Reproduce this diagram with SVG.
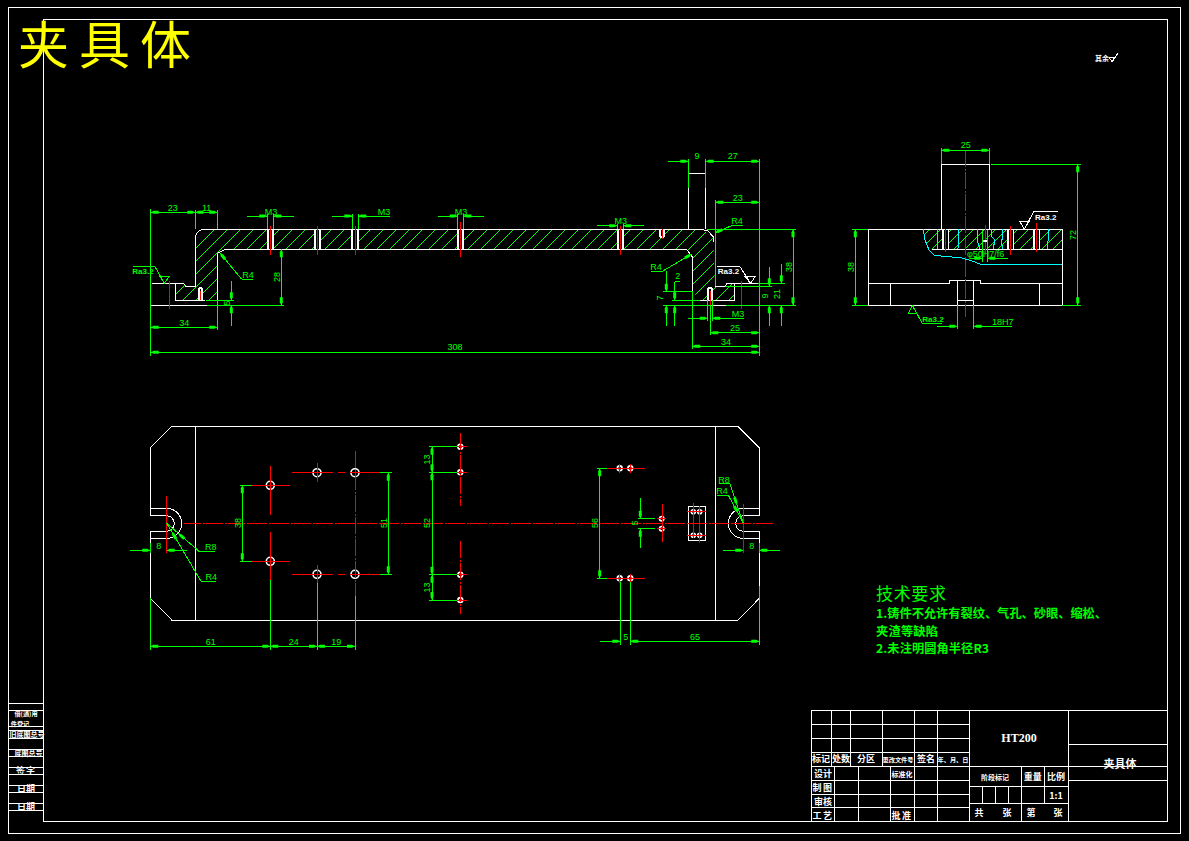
<svg xmlns="http://www.w3.org/2000/svg" width="1189" height="841" viewBox="0 0 1189 841">
<style>
.w{fill:none;stroke:#fff;stroke-width:1;shape-rendering:crispEdges}
.wt{fill:none;stroke:#fff;stroke-width:2;shape-rendering:crispEdges}
.g{fill:none;stroke:#00ff00;stroke-width:1;shape-rendering:crispEdges}
.b{fill:none;stroke:#00ff00;stroke-width:1;marker-start:url(#ar);marker-end:url(#ar);shape-rendering:crispEdges}
.a{fill:none;stroke:#00ff00;stroke-width:1;marker-end:url(#ar);shape-rendering:crispEdges}
.r{fill:none;stroke:#ff0000;stroke-width:1;shape-rendering:crispEdges}
.rc{fill:none;stroke:#ff0000;stroke-width:1;stroke-dasharray:17 1.5 2 1.5;shape-rendering:crispEdges}
.c{fill:none;stroke:#00ffff;stroke-width:1;shape-rendering:crispEdges}
.hl{fill:none;stroke:#00ff00;stroke-width:1;shape-rendering:crispEdges}
.t{font-family:"Liberation Sans",sans-serif;font-size:9px;fill:#00ff00;text-anchor:middle}
.tw{font-family:"Noto Sans CJK SC","Liberation Sans",sans-serif;font-size:9px;font-weight:700;fill:#fff;text-anchor:middle}
.ts{font-size:6.200px}
.tm{font-size:7px}
.tg{font-family:"Noto Sans CJK SC","Liberation Sans",sans-serif;font-size:12.200px;font-weight:700;fill:#00ff00}
.ra{font-family:"Liberation Sans",sans-serif;font-size:8px;font-weight:700;text-anchor:middle}
.hole{fill:none;stroke:#fff;stroke-width:1.600}
</style>
<defs>
<marker id="ar" markerUnits="userSpaceOnUse" markerWidth="10" markerHeight="6" refX="10" refY="3" orient="auto-start-reverse"><path d="M10,3 L7,1.500 L2,1.500 L2,4.500 L7,4.500 Z" fill="#00ff00"/></marker>
<clipPath id="fc"><path d="M204,229.300 L701.700,229.300 L713,237 L715.300,286.300 L725,286.300 L727,283.300 L734.700,283.300 L734.700,300.300 L700,300.300 L692.300,291 L692.300,257 L686.700,249.300 L225,249.300 L218,253 L217.300,300.300 L175.300,300.300 L175.300,283.300 L183.700,283.300 L186,286.700 L195.300,286.700 L195.300,237 Z"/></clipPath>
<clipPath id="sc"><path d="M923.300,229.300 H1062.300 V249.300 H931.700 L929,248 L925,240 Z"/></clipPath>
</defs>
<rect width="1189" height="841" fill="#000"/>

<g id="frame">
<rect class="w" x="8" y="7" width="1172" height="826"/>
<rect class="w" x="43" y="19.500" width="1124" height="802"/>
</g>
<text id="title" x="18" y="64" font-family="'Noto Sans CJK SC','Liberation Sans',sans-serif" font-size="51" fill="#ffff00" letter-spacing="10">夹具体</text>

<g id="roughness-note">
<text class="tw tm" x="1102" y="61">其余</text>
<path class="w" d="M1109,57 H1115 L1112,62 L1109,57 M1112,62 L1118,53"/>
</g>

<g id="front-view">
<path class="hl" clip-path="url(#fc)" d="M176,229l-77,77M189,229l-77,77M202,229l-77,77M215,229l-77,77M228,229l-77,77M241,229l-77,77M254,229l-77,77M267,229l-77,77M280,229l-77,77M293,229l-77,77M306,229l-77,77M319,229l-77,77M332,229l-77,77M345,229l-77,77M358,229l-77,77M371,229l-77,77M384,229l-77,77M397,229l-77,77M410,229l-77,77M423,229l-77,77M436,229l-77,77M449,229l-77,77M462,229l-77,77M475,229l-77,77M488,229l-77,77M501,229l-77,77M514,229l-77,77M527,229l-77,77M540,229l-77,77M553,229l-77,77M566,229l-77,77M579,229l-77,77M592,229l-77,77M605,229l-77,77M618,229l-77,77M631,229l-77,77M644,229l-77,77M657,229l-77,77M670,229l-77,77M683,229l-77,77M696,229l-77,77M709,229l-77,77M722,229l-77,77M735,229l-77,77M748,229l-77,77M761,229l-77,77M774,229l-77,77M787,229l-77,77M800,229l-77,77M813,229l-77,77"/>
<path fill="#000" d="M267.300,229h6v20h-6zM314.300,229h6v20h-6zM352.300,229h6v20h-6zM457.700,229h6v20h-6zM617.300,229h6v20h-6zM198.300,288h4v12h-4zM707.700,288h5v12h-5z"/>
<path class="w" d="M204,229.300 H701.700 M701.700,229.300 L708,231 L713.300,237 V242 M195.300,237 Q197,230 204,229.300 M195.300,237 V286.700 H186 L183.700,283.300 H152 M225,249.300 H686.700 L692.300,257 V291.700 M225,249.300 L218.300,253 M175.300,283.300 V300.300 H205 M217.300,253 V300 M150.700,305.300 H206.700 M700,300.300 H734.700 V283.300 M727,283.300 H758.300 M715.300,286.300 H725 L727,283.300 M710,305.300 H725.700 M688.300,188 V229.300 M705.700,188 V229.300 M688.300,173.300 H705.700 M759.300,296 V300 M150.700,292 V296"/>
<path class="wt" d="M268,229.300 V249.300 M273.300,229.300 V249.300 M315,229.300 V249.300 M320,229.300 V249.300 M352.300,229.300 V249.300 M358.300,229.300 V249.300 M458,229.300 V249.300 M463.300,229.300 V249.300 M618,229.300 V249.300 M623.300,229.300 V249.300 M660,229.300 V237 M664,229.300 V237 M660,237 H664 M198.500,288 V300 M202,288 V300 M198.500,288 H202 M708,288 V300 M712.300,288 V300 M708,288 H712.300"/>
<path class="r" d="M270.300,226 V255 M317.300,226 V255 M355.300,226 V255 M460.300,222 V257 M620.300,226 V255 M662,229 V239 M200.500,291 V300 M710.300,291 V311 M169.300,281 V309 M741.300,281 V309"/>
</g>

<g id="front-dims" class="dims">
<path class="g" d="M150.700,209 V356 M195.300,210 V229 M217.300,210 V229 M217.300,300 V330 M688.300,159 V188 M705.700,159 V188 M759.300,159 V356 M715.300,200 V286 M706.700,229.300 H795.700 M206.700,305.300 H284 M725.700,305.300 H795.700 M206,300.300 H234 M663,291.700 H692.300 M663,305.300 H710 M672,300.300 H700 M725,286.300 H771.700 M758,283.300 H785 M692.300,291 V349 M710.300,305 V335 M707.700,300 V321 M712.300,300 V321 M267.300,214 V229 M273.300,214 V229 M352.300,214 V229 M358.300,214 V229 M457.700,214 V229 M463.300,214 V229 M617.300,224 V229 M623.300,224 V229 M674.700,281.700 H680"/>
<path class="b" d="M150.700,212.300 H195.300"/><path class="b" d="M195.300,212.300 H217.300"/>
<path class="b" d="M150.700,327.300 H217.300"/>
<path class="b" d="M150.700,352.300 H759.300"/>
<path class="b" d="M281.300,249.300 V305.300"/>
<path class="a" d="M247,216 H267.300"/><path class="a" d="M294,216 H273.300"/>
<path class="a" d="M332,216 H352.300"/><path class="a" d="M390,216 H358.300"/>
<path class="a" d="M438,216 H457.700"/><path class="a" d="M484,216 H463.300"/>
<path class="a" d="M597,225.700 H617.300"/><path class="a" d="M643.700,225.700 H623.300"/>
<path class="a" d="M231.300,281 V300.300"/><path class="a" d="M231.300,325.700 V305.300"/>
<path class="a" d="M668,161.300 H688.300"/><path class="b" d="M705.700,161.300 H759.300"/>
<path class="b" d="M715.300,202.300 H759.300"/>
<path class="b" d="M793,229.300 V305.300"/>
<path class="a" d="M666.300,271 V291.700"/><path class="a" d="M666.300,325.700 V305.300"/>
<path class="a" d="M674.700,281.700 V300.300"/><path class="a" d="M674.700,325.700 V305.300"/>
<path class="a" d="M688,318.300 H707.700"/><path class="a" d="M744,318.300 H712.300"/>
<path class="b" d="M710.300,332.700 H759.300"/>
<path class="b" d="M692.300,346.300 H759.300"/>
<path class="a" d="M769.300,267.300 V286.300"/><path class="a" d="M769.300,325.700 V305.300"/>
<path class="a" d="M781.300,264 V283.300"/><path class="a" d="M781.300,325.700 V305.300"/>
<path class="a" d="M241.700,279.300 L220,253"/><path class="g" d="M241.700,279.300 H252.700"/>
<path class="a" d="M731.700,225.700 L715,232.700"/><path class="g" d="M731.700,225.700 H742.700"/>
<path class="a" d="M661.700,271.700 L691.700,254"/><path class="g" d="M661.700,271.700 H651"/>
<text class="t" x="172.700" y="210.500">23</text><text class="t" x="206.700" y="210.500">11</text>
<text class="t" x="184.300" y="325.700">34</text><text class="t" x="455" y="350">308</text>
<text class="t" x="271" y="214.500">M3</text><text class="t" x="384" y="214.500">M3</text><text class="t" x="461" y="214.500">M3</text><text class="t" x="620.700" y="224">M3</text>
<text class="t" x="248" y="278">R4</text><text class="t" x="737" y="224">R4</text><text class="t" x="656" y="270">R4</text>
<text class="t" x="697" y="159">9</text><text class="t" x="732.700" y="159">27</text><text class="t" x="737.700" y="200.500">23</text>
<text class="t" x="677.700" y="279">2</text><text class="t" x="738" y="316.500">M3</text><text class="t" x="735" y="331">25</text><text class="t" x="726" y="345">34</text>
<text class="t" transform="rotate(-90 280 277)" x="280" y="277">28</text>
<text class="t" transform="rotate(-90 230 303)" x="230" y="303">5</text>
<text class="t" transform="rotate(-90 791.500 267)" x="791.500" y="267">38</text>
<text class="t" transform="rotate(-90 663 298)" x="663" y="298">7</text>
<text class="t" transform="rotate(-90 767.500 296)" x="767.500" y="296">9</text>
<text class="t" transform="rotate(-90 780 294)" x="780" y="294">21</text>
<path class="g" d="M133,266.700 H155 L164.300,283 M160,276.700 H169 L164.300,283 Z"/>
<text class="ra" x="143" y="273.500" fill="#00ff00">Ra3.2</text>
<path class="w" d="M717.300,266.700 H740 L750.700,283.300 M745,276.700 H755 L750.700,283.300 Z"/>
<text class="ra" x="728.500" y="274" fill="#fff">Ra3.2</text>
</g>

<g id="side-view">
<path class="hl" clip-path="url(#sc)" d="M930,229l-21,21M941,229l-21,21M952,229l-21,21M963,229l-21,21M974,229l-21,21M985,229l-21,21M996,229l-21,21M1007,229l-21,21M1018,229l-21,21M1029,229l-21,21M1040,229l-21,21M1051,229l-21,21M1062,229l-21,21M1073,229l-21,21M1084,229l-21,21"/>
<path fill="#000" d="M942,229h6.300v20h-6.300zM1007.300,229h6v20h-6zM1033.300,229h6v20h-6z"/>
<path class="w" d="M941.300,229.300 V164.300 H989.300 V229.300 M868.300,229.300 H1062.300 V305.300 H868.300 Z M868.300,283.300 H949.300 V280.300 H980.300 V283.300 H1062.300 M890.300,283.300 V305.300 M1039.300,283.300 V305.300 M957.300,280.300 V305.300 M973.700,280.300 V305.300 M957.300,300.300 H973.700 M931.700,249.300 H1062.300 M948.300,229.300 V249.300 M1013.300,229.300 V249.300 M1033.300,229.300 V249.300 M1039.300,229.300 V249.300"/>
<path class="wt" d="M943,229.300 V249.300 M1008,229.300 V249.300 M1034,229.300 V249.300"/>
<path class="c" d="M923.300,229.300 L925,240 L929,250 L934,255 L941,256 L952,257 L962,258 L972,261 L980,264 L1000,265 L1002,264 L1062.300,264 M937.700,229 L938,240 L937,249 M958.300,229 L958,249 M978,229 L977,240 L980,249 M992,229 L991,236 L995,240 L993,249 M1002.700,229 L1003,238 L1001,241 L1003,249 M1048.300,229 L1049,238 L1047,244 L1048,249"/>
<path class="rc" d="M965.300,150 V317"/>
<path class="r" d="M945.300,229 V252 M1010.300,226 V255 M1036.300,223 V252 M985.300,225 V255"/>
<rect x="983" y="240" width="4" height="2" fill="#fff"/>
</g>

<g id="side-dims" class="dims">
<path class="g" d="M941.300,148 V164 M989.300,148 V164 M991,164.300 H1081 M1062.300,305.300 H1081 M852,229.300 H868 M852,305.300 H868 M957.300,305 V329 M973.700,305 V329 M982.300,230 V262 M987.300,230 V262"/>
<path class="b" d="M941.300,150.300 H989.300"/>
<path class="b" d="M1077.700,164.300 V305.300"/>
<path class="b" d="M855.300,229.300 V305.300"/>
<path class="a" d="M937,326.300 H957.300"/><path class="a" d="M1011.700,326.300 H973.700"/>
<path class="a" d="M970,258.300 H982.300"/><path class="a" d="M1007.700,258.300 H987.300"/>
<text class="t" x="965.700" y="148">25</text>
<text class="t" x="1002.700" y="324.700">18H7</text>
<text class="t" x="985.700" y="256.700">φ50H7/f6</text>
<text class="t" transform="rotate(-90 1076 235)" x="1076" y="235">72</text>
<text class="t" transform="rotate(-90 854 267)" x="854" y="267">38</text>
<path class="w" d="M1057.700,211.300 H1034 L1024.300,229 M1020,221.700 H1029 L1024.300,229 Z"/>
<text class="ra" x="1045.700" y="220" fill="#fff">Ra3.2</text>
<path class="g" d="M912.300,305.300 L908.300,313.300 H916.700 Z M912.300,305.300 L922.300,323.300 H941.700"/>
<text class="ra" x="933" y="322" fill="#00ff00">Ra3.2</text>
</g>

<g id="plan-view">
<path class="w" d="M172,426.300 H738 L759.300,448 V515.700 H743.300 M759.300,531.300 V598.300 L738,620.300 H172 L150.300,598.300 V531.300 H166.700 M150.300,515.700 V448 L172,426.300 M150.300,515.700 H166.700 M150.300,508.300 H166.700 A15,15 0 0 1 166.700,538.300 H150.300 M166.700,515.700 A7.600,7.800 0 0 1 166.700,531.300 M759.300,508.300 H743.300 A15,15 0 0 0 743.300,538.300 H759.300 M759.300,531.300 H743.300 A7.600,7.800 0 0 1 743.300,515.700 M195.300,426.300 V620.300 M715.300,426.300 V620.300"/>
<rect class="w" x="688.300" y="506.300" width="17.400" height="34.400"/>
<g id="holes">
<circle class="hole" cx="270.300" cy="485.300" r="4"/><circle class="hole" cx="270.300" cy="561.300" r="4"/>
<circle class="hole" cx="317" cy="472.700" r="4"/><circle class="hole" cx="355" cy="472.700" r="4"/><circle class="hole" cx="317" cy="574.300" r="4"/><circle class="hole" cx="355" cy="574.300" r="4"/>
<circle class="hole" cx="460.300" cy="446.700" r="2.400"/><circle class="hole" cx="460.300" cy="472.300" r="2.400"/><circle class="hole" cx="460.300" cy="574.700" r="2.400"/><circle class="hole" cx="460.300" cy="600" r="2.400"/>
<circle class="hole" cx="619.700" cy="468.300" r="2.400"/><circle class="hole" cx="630.300" cy="468.300" r="2.400"/><circle class="hole" cx="619.700" cy="578.300" r="2.400"/><circle class="hole" cx="630.300" cy="578.300" r="2.400"/>
<circle class="hole" cx="661.700" cy="518.700" r="2.200"/><circle class="hole" cx="661.700" cy="528.700" r="2.200"/>
<circle class="hole" cx="693.300" cy="511.700" r="2"/><circle class="hole" cx="699.700" cy="511.700" r="2"/><circle class="hole" cx="693.300" cy="535.300" r="2"/><circle class="hole" cx="699.700" cy="535.300" r="2"/>
</g>
<path class="rc" d="M184,523.500 H775"/>
<path class="r" d="M251.700,485.300 H290 M251.700,561.300 H290 M270.300,466 V515 M270.300,531.700 V580 M292,472.700 H333 M338,472.700 H345 M350,472.700 H380 M292,574.300 H333 M338,574.300 H345 M350,574.300 H380 M317,463 V481.700 M317,565 V583 M166.700,496 V553 M743.300,504 V553 M607,468.300 H645 M607,578.300 H645 M619.700,464 V473 M630.300,464 V473 M619.700,574 V583 M630.300,574 V583 M662.300,504 V542.300 M657,518.700 H666 M657,528.700 H666 M687,511.700 H706 M687,535.300 H706 M693.300,503 V538 M699.700,506 V543 M454,446.700 H467 M454,472.300 H467 M454,574.700 H467 M454,600 H467"/>
<path class="rc" d="M355,451 V596"/>
<path class="rc" d="M460.300,433 V505.700 M460.300,541 V614"/>
</g>

<g id="plan-dims" class="dims">
<path class="g" d="M240,485.300 H251.700 M240,561.300 H251.700 M380,472.700 H392 M380,574.300 H392 M429,446.700 H457 M429,472.300 H457 M429,574.700 H457 M429,600 H457 M597,468.300 H607 M597,578.300 H607 M638.300,518.700 H655 M638.300,528.700 H655 M150.300,598 V649.700 M270.300,580 V649.700 M317,583 V649.700 M355,596 V649.700 M620.300,582 V645 M630.300,582 V645 M759.300,586 V645 M150.300,543 V553 M759.300,543 V553"/>
<path class="b" d="M242.300,485.300 V561.300"/>
<path class="b" d="M388.300,472.700 V574.300"/>
<path class="b" d="M432,446.700 V472.300"/><path class="b" d="M432,472.300 V574.700"/><path class="b" d="M432,574.700 V600"/>
<path class="b" d="M599.700,468.300 V578.300"/>
<path class="a" d="M640.300,498.300 V518.700"/><path class="a" d="M640.300,548.300 V528.700"/>
<path class="a" d="M130,550.300 H150.300"/><path class="a" d="M186.700,550.300 H166.700"/>
<path class="a" d="M723,550.300 H743.300"/><path class="a" d="M780,550.300 H759.300"/>
<path class="b" d="M150.300,646.300 H270.300"/><path class="b" d="M270.300,646.300 H317"/><path class="b" d="M317,646.300 H355"/>
<path class="a" d="M600,641.300 H620.300"/><path class="b" d="M630.300,641.300 H759.300"/>
<path class="a" d="M199,551.300 L178.300,533.300"/><path class="g" d="M199,551.300 H215 M178.300,533.300 L166.700,523.300"/>
<path class="a" d="M201,581.300 L172,532"/><path class="g" d="M201,581.300 H215.700 M172,532 L166.700,523.300"/>
<path class="a" d="M730,483.700 L737,505"/><path class="g" d="M730,483.700 H719.300 M737,505 L743.300,523.300"/>
<path class="a" d="M728.300,495.300 L738,513"/><path class="g" d="M728.300,495.300 H717 M738,513 L743.300,523.300"/>
<text class="t" x="158.700" y="549">8</text><text class="t" x="751.700" y="549">8</text>
<text class="t" x="210.700" y="549.500">R8</text><text class="t" x="211.300" y="580">R4</text>
<text class="t" x="724" y="482.500">R8</text><text class="t" x="722" y="494">R4</text>
<text class="t" x="210.700" y="645">61</text><text class="t" x="293.700" y="645">24</text><text class="t" x="336.300" y="645">19</text>
<text class="t" x="625.700" y="640">5</text><text class="t" x="695" y="640">65</text>
<text class="t" transform="rotate(-90 241 523)" x="241" y="523">38</text>
<text class="t" transform="rotate(-90 387 523)" x="387" y="523">51</text>
<text class="t" transform="rotate(-90 430 459.500)" x="430" y="459.500">13</text>
<text class="t" transform="rotate(-90 430 523)" x="430" y="523">52</text>
<text class="t" transform="rotate(-90 430 587.500)" x="430" y="587.500">13</text>
<text class="t" transform="rotate(-90 598 523)" x="598" y="523">56</text>
<text class="t" transform="rotate(-90 638 523)" x="638" y="523">5</text>
</g>

<g id="tech-notes">
<text x="876" y="600" font-family="'Noto Sans CJK SC',sans-serif" font-size="17" fill="#00ff00" textLength="70">技术要求</text>
<text class="tg" x="876" y="618" textLength="231">1.铸件不允许有裂纹、气孔、砂眼、缩松、</text>
<text class="tg" x="876" y="636" textLength="62">夹渣等缺陷</text>
<text class="tg" x="876" y="653" textLength="113">2.未注明圆角半径R3</text>
</g>

<g id="title-block">
<path class="w" d="M811,710.300 H1167 M811,724.300 H969.300 M811,738.300 H969.300 M811,752.300 H969.300 M811,766.300 H1167 M811,780.300 H969.300 M811,794.300 H969.300 M811,807.300 H969.300 M811,710.300 V821.300 M831.300,710.300 V766.300 M850.300,710.300 V766.300 M882.300,710.300 V766.300 M914.300,710.300 V821.300 M937.300,710.300 V821.300 M969.300,710.300 V821.300 M834.300,766.300 V821.300 M858.300,766.300 V821.300 M890.300,766.300 V821.300 M1068.300,710.300 V821.300 M969.300,786.300 H1068.300 M969.300,803.300 H1068.300 M1021.300,766.300 V821.300 M1044.300,766.300 V803.300 M982.300,786.300 V803.300 M995.300,786.300 V803.300 M1008.300,786.300 V803.300 M1068.300,744.300 H1167 M1068.300,780.300 H1167"/>
<text class="tw" x="821" y="762">标记</text><text class="tw" x="841" y="762">处数</text><text class="tw" x="866" y="762">分区</text>
<text class="tw ts" x="898" y="761.500">更改文件号</text>
<text class="tw" x="926" y="762">签名</text>
<text class="tw ts" x="953" y="761.500">年、月、日</text>
<text class="tw" x="823" y="777">设计</text><text class="tw tm" x="902" y="776.500">标准化</text>
<text class="tw" x="823" y="791" letter-spacing="1.500">制图</text><text class="tw" x="823" y="805">审核</text><text class="tw" x="823" y="819" letter-spacing="1.500">工艺</text><text class="tw" x="902" y="819" letter-spacing="1.500">批准</text>
<text x="1019" y="742" font-family="'Liberation Serif',serif" font-size="12" font-weight="700" fill="#fff" text-anchor="middle">HT200</text>
<text class="tw" x="1120" y="768" style="font-size:11px">夹具体</text>
<text class="tw tm" x="995" y="779.500">阶段标记</text><text class="tw" x="1032.700" y="780">重量</text><text class="tw" x="1056" y="780">比例</text>
<text class="tw" x="1056" y="799">1:1</text>
<text class="tw" x="979" y="816">共</text><text class="tw" x="1007" y="816">张</text><text class="tw" x="1031" y="816">第</text><text class="tw" x="1058" y="816">张</text>
</g>

<g id="side-table">
<path class="w" d="M8,703 H43 M8,710 H43 M8,726 H43 M8,730 H43 M8,738 H43 M8,749 H43 M8,756 H43 M8,767 H43 M8,774 H43 M8,785 H43 M8,792 H43 M8,803 H43 M8,810 H43"/>
<text class="tw ts" x="26" y="716">借(通)用</text>
<text class="tw ts" x="20" y="725.500">件登记</text>
<text class="tw tm" x="27" y="737">旧底图总号</text>
<text class="tw tm" x="28.500" y="755.500">底图总号</text>
<text class="tw" x="26" y="774" letter-spacing="1">签字</text>
<text class="tw" x="26" y="792">日期</text>
<text class="tw" x="26" y="810">日期</text>
</g>
</svg>
